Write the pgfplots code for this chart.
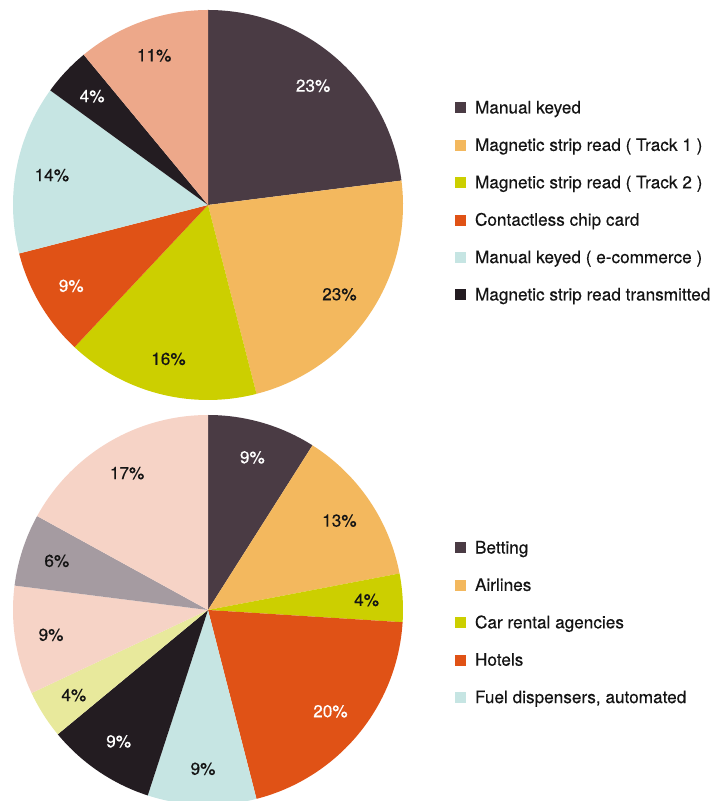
\documentclass[border=0pt]{standalone}
\usepackage{pgfplots}
\pgfplotsset{compat=1.18}
\usepackage{fontspec}
\setmainfont{TeX Gyre Heros}[FakeBold=0.35]
\definecolor{c1}{HTML}{4A3B44}
\definecolor{c2}{HTML}{F3B85E}
\definecolor{c3}{HTML}{CCCF00}
\definecolor{c4}{HTML}{E05216}
\definecolor{c5}{HTML}{C6E5E3}
\definecolor{c6}{HTML}{231C21}
\definecolor{c7}{HTML}{EDA88A}
\definecolor{c8}{HTML}{E8E99C}
\definecolor{c9}{HTML}{F6D3C6}
\definecolor{c10}{HTML}{A59BA1}
\definecolor{txt}{HTML}{141414}
\newcommand\lblfont{\fontsize{17.2}{20}\selectfont}
% cx, cy, r, list value/colour/textcolour
\newcommand\drawpie[4]{%
  \gdef\cum{0}%
  \foreach \v/\c/\t in {#4}{%
    \pgfmathsetmacro\a{90-3.6*\cum}%
    \pgfmathsetmacro\b{90-3.6*(\cum+\v)}%
    \pgfmathsetmacro\m{(\a+\b)/2}%
    \pgfmathsetmacro\lx{#1+0.815*#3*cos(\m)}%
    \pgfmathsetmacro\ly{#2+0.815*#3*sin(\m)}%
    \edef\tmp{\noexpand\fill[\c] (axis cs:#1,#2) -- ++(\a:#3pt) arc[start angle=\a, end angle=\b, radius=#3pt] -- cycle;
      \noexpand\node[text=\t, font=\noexpand\lblfont] at (axis cs:\lx,\ly) {\v\noexpand\%};}%
    \tmp
    \pgfmathsetmacro\nc{\cum+\v}\xdef\cum{\nc}%
  }%
}
\pgfplotsset{
  pieaxis/.style={
    at={(0,0)}, anchor=south west,
    x=1pt, y=1pt, xmin=0, xmax=713, ymin=0, ymax=801,
    hide axis, clip=true,
    legend image code/.code={\fill[##1] (0pt,-5.5pt) rectangle (11pt,5.5pt);},
    legend cell align=left,
    legend style={draw=none, fill=none, inner sep=0pt, outer sep=0pt,
      font=\lblfont, text=txt, row sep=23.4pt,
      nodes={inner sep=0pt, text height=12.5pt, text depth=1.5pt},
      /tikz/every odd column/.append style={column sep=9pt}},
  }
}
\begin{document}
\begin{tikzpicture}
\useasboundingbox (0,0) rectangle (713pt,801pt);
% top pie
\begin{axis}[pieaxis, legend style={at={(axis cs:455,700)}, anchor=north west}]
\drawpie{208}{596}{195}{23/c1/white, 23/c2/txt, 16/c3/txt, 9/c4/white, 14/c5/txt, 4/c6/white, 11/c7/txt}
\addlegendimage{fill=c1, draw=none}\addlegendentry{Manual keyed}
\addlegendimage{fill=c2, draw=none}\addlegendentry{Magnetic strip read ( Track 1 )}
\addlegendimage{fill=c3, draw=none}\addlegendentry{Magnetic strip read ( Track 2 )}
\addlegendimage{fill=c4, draw=none}\addlegendentry{Contactless chip card}
\addlegendimage{fill=c5, draw=none}\addlegendentry{Manual keyed ( e-commerce )}
\addlegendimage{fill=c6, draw=none}\addlegendentry{Magnetic strip read transmitted}
\end{axis}
% bottom pie
\begin{axis}[pieaxis, legend style={at={(axis cs:455,260)}, anchor=north west}]
\drawpie{208}{191}{195}{9/c1/white, 13/c2/txt, 4/c3/txt, 20/c4/white, 9/c5/txt, 9/c6/white, 4/c8/txt, 9/c9/txt, 6/c10/txt, 17/c9/txt}
\addlegendimage{fill=c1, draw=none}\addlegendentry{Betting}
\addlegendimage{fill=c2, draw=none}\addlegendentry{Airlines}
\addlegendimage{fill=c3, draw=none}\addlegendentry{Car rental agencies}
\addlegendimage{fill=c4, draw=none}\addlegendentry{Hotels}
\addlegendimage{fill=c5, draw=none}\addlegendentry{Fuel dispensers, automated}
\end{axis}
\end{tikzpicture}
\end{document}
